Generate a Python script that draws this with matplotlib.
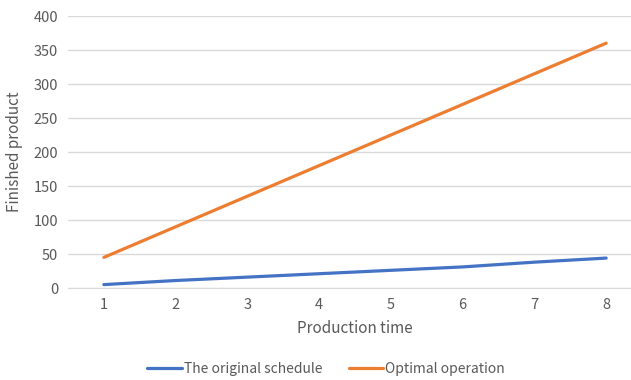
import matplotlib
matplotlib.use("Agg")
import matplotlib.pyplot as plt

plt.rcParams["font.family"] = ["Noto Sans CJK SC", "DejaVu Sans"]

# data
time_points = [1, 2, 3, 4, 5, 6, 7, 8]
original = [5, 11, 16, 21, 26, 31, 38, 44]
optimal = [45, 90, 135, 180, 225, 270, 315, 360]
series_names = ["The original schedule", "Optimal operation"]

BLUE = "#4472C4"; ORANGE = "#ED7D31"; GRID = "#d9d9d9"; TXT = "#595959"

fig = plt.figure(figsize=(6.31, 3.80), dpi=100)
ax = fig.add_axes([68/631, 1 - 288/380, 574/631, 272/380])

ax.plot(time_points, original, color=BLUE, lw=2.3, solid_capstyle="round",
        label=series_names[0])
ax.plot(time_points, optimal, color=ORANGE, lw=2.3, solid_capstyle="round",
        label=series_names[1])

ax.set_xlim(0.5, 8.5)
ax.set_ylim(0, 400)
ax.set_yticks(range(0, 401, 50))
ax.set_xticks(time_points)
ax.grid(axis="y", color=GRID, lw=1)
ax.set_axisbelow(True)
for s in ["top", "right", "left"]:
    ax.spines[s].set_visible(False)
ax.spines["bottom"].set_color(GRID)
ax.tick_params(length=0, colors=TXT, labelsize=10.5)
ax.tick_params(axis="x", pad=7)
ax.tick_params(axis="y", pad=7)

ax.set_xlabel("Production time", color=TXT, fontsize=11, labelpad=6)
ax.set_ylabel("Finished product", color=TXT, fontsize=11)
ax.yaxis.set_label_coords(-0.078, 0.5)

leg = fig.legend(loc="center", bbox_to_anchor=(326/631, 1 - 369/380), ncol=2,
                 frameon=False, fontsize=10, handlelength=2.5, handletextpad=0.15,
                 columnspacing=1.9)
for t in leg.get_texts():
    t.set_color(TXT)

fig.savefig("out.png", dpi=100)
